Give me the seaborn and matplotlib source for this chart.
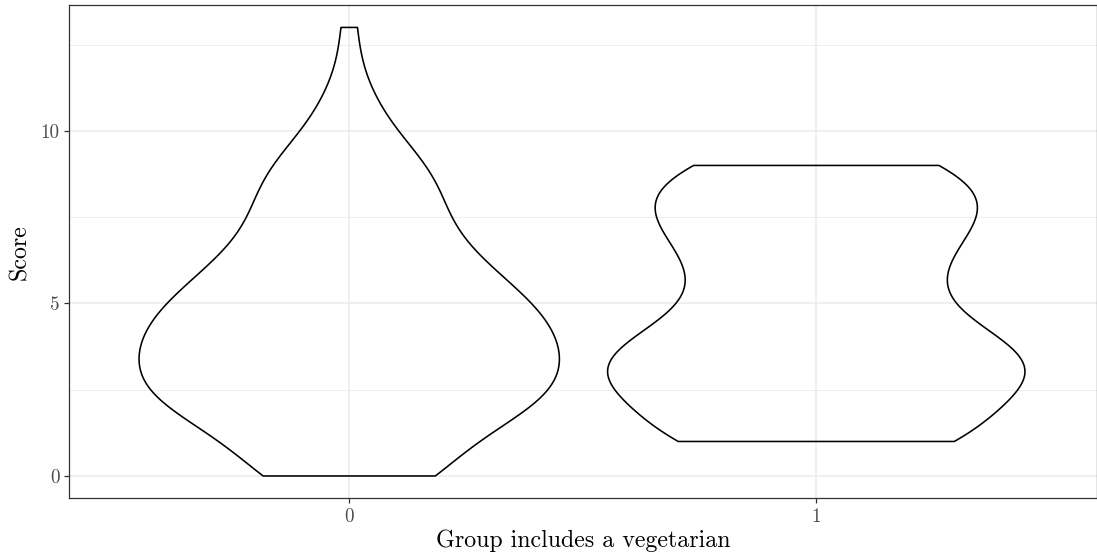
import numpy as np
import pandas as pd
import seaborn as sns
import matplotlib
matplotlib.use("Agg")
import matplotlib.pyplot as plt
from matplotlib.ticker import MultipleLocator

# scores and how many groups got each score
scores_nonveg = [0, 1, 2, 3, 4, 5, 6, 7, 8, 9, 10, 11, 12, 13]
counts_nonveg = [9, 4, 15, 13, 14, 12, 9, 6, 6, 6, 2, 2, 0, 1]
scores_veg = [1, 2, 3, 4, 5, 6, 7, 8, 9]
counts_veg = [10, 4, 13, 7, 4, 5, 6, 8, 7]

veg_levels = [0, 1]
x_ticklabels = ["0", "1"]
y_ticks = [0, 5, 10]

df = pd.DataFrame({
    'vegetarian': [0] * sum(counts_nonveg) + [1] * sum(counts_veg),
    'score': np.concatenate([np.repeat(scores_nonveg, counts_nonveg),
                             np.repeat(scores_veg, counts_veg)]).astype(float),
})


def nrd0(kde):
    # R's bw.nrd0 (what ggplot uses) expressed as a factor of the sd
    x = kde.dataset.ravel()
    sd = x.std(ddof=1)
    q75, q25 = np.percentile(x, [75, 25])
    return 0.9 * min(sd, (q75 - q25) / 1.34) * len(x) ** -0.2 / sd


sns.set_theme(style='white')
plt.rcParams['font.family'] = ['cmr10', 'DejaVu Serif']
plt.rcParams['axes.formatter.use_mathtext'] = True

fig = plt.figure(figsize=(10.97, 5.58), dpi=100)
ax = fig.add_axes([69 / 1097, 1 - 498.4 / 558, 1 - 69.5 / 1097, (498.4 - 5) / 558])

sns.violinplot(data=df, x='vegetarian', y='score', order=veg_levels,
               cut=0, density_norm='area', common_norm=True, width=0.9,
               inner=None, fill=False, color='black', linecolor='black',
               linewidth=1.15, gridsize=512, bw_method=nrd0, ax=ax)

ax.set_xlim(-0.6, 1.6)
ax.set_ylim(-0.65, 13.65)
ax.set_xticks([0, 1])
ax.set_xticklabels(x_ticklabels)
ax.set_yticks(y_ticks)
ax.set_yticklabels([str(t) for t in y_ticks])
ax.yaxis.set_minor_locator(MultipleLocator(2.5))

ax.set_axisbelow(True)
ax.grid(True, which='major', axis='both', color='#EBEBEB', linewidth=1.1)
ax.grid(True, which='minor', axis='y', color='#EBEBEB', linewidth=0.6)
ax.tick_params(which='major', length=3.8, width=0.9, color='#333333',
               labelcolor='#4D4D4D', labelsize=13.8, pad=3, left=True, bottom=True)
ax.tick_params(which='minor', length=0)
for s in ax.spines.values():
    s.set_color('#333333')
    s.set_linewidth(0.9)

ax.set_xlabel('Group includes a vegetarian', fontsize=17.2, color='black', labelpad=3)
ax.set_ylabel('Score', fontsize=17.2, color='black', labelpad=7)

fig.savefig('out.png', dpi=100)
